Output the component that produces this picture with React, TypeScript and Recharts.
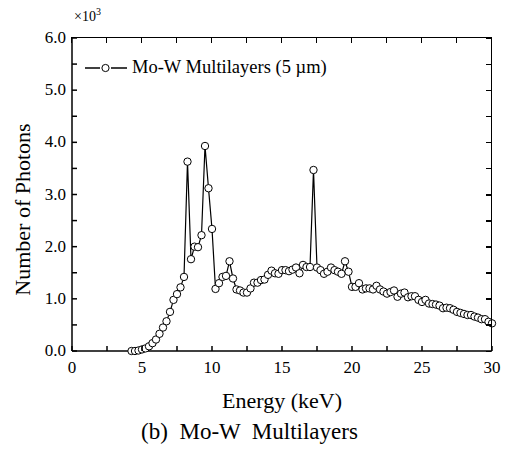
import React from "react";
import { LineChart, Line, XAxis, YAxis, Legend, Label } from "recharts";

// Energy (keV), sampled every 0.25 keV
const energy = [
  4.25, 4.5, 4.75, 5, 5.25, 5.5, 5.75, 6, 6.25, 6.5, 6.75, 7, 7.25, 7.5, 7.75,
  8, 8.25, 8.5, 8.75, 9, 9.25, 9.5, 9.75, 10, 10.25, 10.5, 10.75, 11, 11.25,
  11.5, 11.75, 12, 12.25, 12.5, 12.75, 13, 13.25, 13.5, 13.75, 14, 14.25, 14.5,
  14.75, 15, 15.25, 15.5, 15.75, 16, 16.25, 16.5, 16.75, 17, 17.25, 17.5, 17.75,
  18, 18.25, 18.5, 18.75, 19, 19.25, 19.5, 19.75, 20, 20.25, 20.5, 20.75, 21,
  21.25, 21.5, 21.75, 22, 22.25, 22.5, 22.75, 23, 23.25, 23.5, 23.75, 24, 24.25,
  24.5, 24.75, 25, 25.25, 25.5, 25.75, 26, 26.25, 26.5, 26.75, 27, 27.25, 27.5,
  27.75, 28, 28.25, 28.5, 28.75, 29, 29.25, 29.5, 29.75, 30,
];

// Number of photons (x10^3)
const photons = [
  0, 0, 0.01, 0.03, 0.05, 0.09, 0.15, 0.22, 0.33, 0.45, 0.57, 0.75, 0.98, 1.09,
  1.22, 1.42, 3.63, 1.76, 2.0, 1.99, 2.22, 3.93, 3.12, 2.34, 1.19, 1.3, 1.42,
  1.44, 1.72, 1.39, 1.18, 1.16, 1.12, 1.12, 1.2, 1.31, 1.31, 1.36, 1.37, 1.46,
  1.54, 1.49, 1.48, 1.55, 1.55, 1.53, 1.56, 1.6, 1.49, 1.65, 1.61, 1.61, 3.47,
  1.6, 1.55, 1.48, 1.52, 1.6, 1.55, 1.52, 1.48, 1.72, 1.52, 1.23, 1.23, 1.3,
  1.18, 1.2, 1.2, 1.18, 1.25, 1.18, 1.14, 1.1, 1.13, 1.16, 1.04, 1.1, 1.12,
  1.03, 1.05, 1.05, 0.98, 0.94, 0.98, 0.91, 0.9, 0.89, 0.87, 0.82, 0.83, 0.82,
  0.79, 0.75, 0.73, 0.71, 0.69, 0.69, 0.66, 0.64, 0.61, 0.61, 0.56, 0.53,
];

const xTicks = [0, 2.5, 5, 7.5, 10, 12.5, 15, 17.5, 20, 22.5, 25, 27.5, 30];
const yTicks = [0, 0.5, 1, 1.5, 2, 2.5, 3, 3.5, 4, 4.5, 5, 5.5, 6];

const data = energy.map((e, i) => ({ energy: e, photons: photons[i] }));

const FONT = "Liberation Serif";
const AXIS = { stroke: "#000", strokeWidth: 1.5 };

const W = 512;
const H = 451;
const MARGIN = { top: 38, right: 20, bottom: 70, left: 0 };
const Y_AXIS_W = 72;
const X_AXIS_H = 30;
// plot box, used for the mirrored top/right frame
const PLOT = {
  x: MARGIN.left + Y_AXIS_W,
  y: MARGIN.top,
  w: W - MARGIN.left - MARGIN.right - Y_AXIS_W,
  h: H - MARGIN.top - MARGIN.bottom - X_AXIS_H,
};

function BottomTick({ x, y, payload }: any) {
  const major = payload.value % 5 === 0;
  return (
    <g>
      <line x1={x} x2={x} y1={y} y2={y - 5} stroke="#000" strokeWidth={1.5} />
      {major && (
        <text x={x} y={y + 22} textAnchor="middle" fontSize={17} fontFamily={FONT} fill="#000">
          {payload.value}
        </text>
      )}
    </g>
  );
}

function LeftTick({ x, y, payload }: any) {
  const major = payload.value % 1 === 0;
  return (
    <g>
      <line x1={x} x2={x + 5} y1={y} y2={y} stroke="#000" strokeWidth={1.5} />
      {major && (
        <text x={x - 6} y={y + 5} textAnchor="end" fontSize={17} fontFamily={FONT} fill="#000">
          {payload.value.toFixed(1)}
        </text>
      )}
    </g>
  );
}

// top and right edges of the box with inward stubs (plain HTML boxes)
function Frame() {
  const xMax = xTicks[xTicks.length - 1];
  const yMax = yTicks[yTicks.length - 1];
  const stub: React.CSSProperties = { position: "absolute", background: "#000" };
  return (
    <div
      style={{
        position: "absolute",
        left: PLOT.x - 0.75,
        top: PLOT.y - 0.75,
        width: PLOT.w,
        height: PLOT.h,
        borderTop: "1.5px solid #000",
        borderRight: "1.5px solid #000",
        zIndex: 5,
        pointerEvents: "none",
      }}
    >
      {xTicks.map((v) => (
        <div key={"t" + v} style={{ ...stub, left: (v / xMax) * PLOT.w - 0.75, top: 0, width: 1.5, height: 5 }} />
      ))}
      {yTicks.map((v) => (
        <div key={"r" + v} style={{ ...stub, right: 0, top: PLOT.h - (v / yMax) * PLOT.h - 0.75, width: 5, height: 1.5 }} />
      ))}
    </div>
  );
}

function LegendContent() {
  return (
    <div style={{ display: "flex", alignItems: "center", fontFamily: FONT, fontSize: 18.5, color: "#000" }}>
      <svg width={44} height={14} style={{ marginRight: 4 }}>
        <line x1={1} x2={16} y1={7} y2={7} stroke="#000" strokeWidth={1.5} />
        <line x1={27} x2={43} y1={7} y2={7} stroke="#000" strokeWidth={1.5} />
        <circle cx={21.5} cy={7} r={3.6} fill="#fff" stroke="#000" strokeWidth={1} />
      </svg>
      <span>Mo-W Multilayers (5 µm)</span>
    </div>
  );
}

export default function App() {
  return (
    <div style={{ position: "absolute", left: 0, top: 0, width: W, height: H, background: "#fff" }}>
      <LineChart width={W} height={H} data={data} margin={MARGIN}>
        <XAxis
          dataKey="energy"
          type="number"
          domain={[0, 30]}
          ticks={xTicks}
          interval={0}
          height={X_AXIS_H}
          tickSize={0}
          tickMargin={0}
          tick={<BottomTick />}
          axisLine={AXIS}
          tickLine={false}
        >
          <Label
            content={({ viewBox }: any) => (
              <text
                x={viewBox.x + viewBox.width / 2}
                y={viewBox.y + 57}
                textAnchor="middle"
                fontSize={22}
                fontFamily={FONT}
                fill="#000"
              >
                Energy (keV)
              </text>
            )}
          />
        </XAxis>
        <YAxis
          type="number"
          domain={[0, 6]}
          ticks={yTicks}
          interval={0}
          width={Y_AXIS_W}
          tickSize={0}
          tickMargin={0}
          tick={<LeftTick />}
          axisLine={AXIS}
          tickLine={false}
        >
          <Label
            content={({ viewBox }: any) => {
              const cx = 22;
              const cy = viewBox.y + viewBox.height / 2 + 15;
              return (
                <text
                  x={cx}
                  y={cy}
                  transform={`rotate(-90 ${cx} ${cy})`}
                  textAnchor="middle"
                  dominantBaseline="central"
                  fontSize={22}
                  fontFamily={FONT}
                  fill="#000"
                >
                  Number of Photons
                </text>
              );
            }}
          />
        </YAxis>
        <Legend
          layout="vertical"
          align="center"
          verticalAlign="middle"
          content={<LegendContent />}
          wrapperStyle={{ top: 57, left: 84, width: "auto" }}
        />
        <Line
          dataKey="photons"
          name="Mo-W Multilayers (5 µm)"
          stroke="#000"
          strokeWidth={1.2}
          dot={{ r: 3.7, fill: "#fff", stroke: "#000", strokeWidth: 1 }}
          activeDot={false}
          isAnimationActive={false}
        />
      </LineChart>
      <Frame />
      <div
        style={{
          position: "absolute",
          left: 74,
          top: 6,
          fontFamily: FONT,
          fontSize: 14,
          color: "#000",
        }}
      >
        ×10<sup style={{ fontSize: 10 }}>3</sup>
      </div>
      <div
        style={{
          position: "absolute",
          left: 0,
          top: 419,
          width: 499,
          textAlign: "center",
          fontFamily: FONT,
          fontSize: 23,
          whiteSpace: "pre",
          color: "#000",
        }}
      >
        (b)  Mo-W  Multilayers
      </div>
    </div>
  );
}
